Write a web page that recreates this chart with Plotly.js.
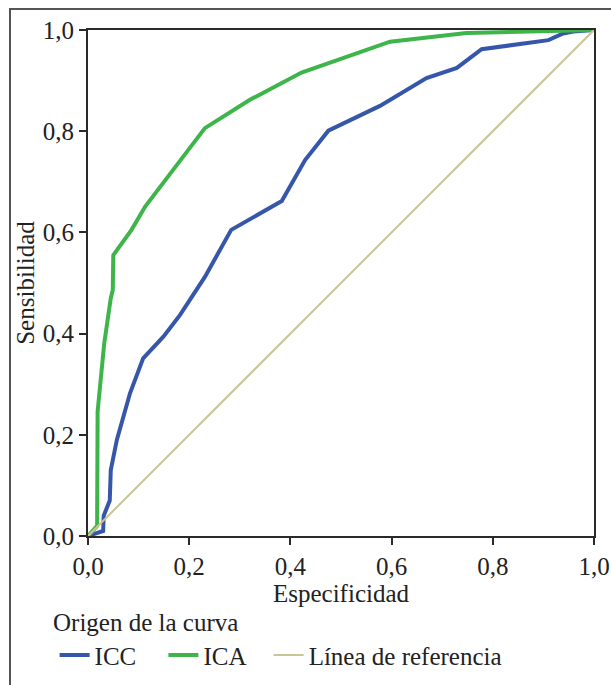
<!DOCTYPE html>
<html>
<head>
<meta charset="utf-8">
<script src="https://cdn.plot.ly/plotly-3.0.1.min.js"></script>
<style>
  html, body { margin: 0; padding: 0; background: #fff; overflow: hidden; }
  #frame { position: absolute; left: 9px; top: 8px; width: 700px; height: 700px;
           border-left: 2px solid #555; border-top: 2px solid #555; pointer-events: none; z-index: 5; }
  #chart { position: absolute; left: 0; top: 0; width: 611px; height: 685px; }
</style>
</head>
<body>
<div id="chart"></div>
<div id="frame"></div>
<script>
// ICC curve (1 - especificidad, sensibilidad)
const iccX = [0, 0.030, 0.031, 0.043, 0.045, 0.057, 0.083, 0.109, 0.149, 0.182, 0.231, 0.283, 0.383, 0.429, 0.475, 0.577, 0.669, 0.729, 0.778, 0.910, 0.939, 0.959, 1];
const iccY = [0, 0.010, 0.040, 0.070, 0.130, 0.190, 0.282, 0.351, 0.394, 0.437, 0.512, 0.605, 0.662, 0.743, 0.801, 0.850, 0.905, 0.925, 0.962, 0.980, 0.993, 0.997, 1];
// ICA curve
const icaX = [0, 0.018, 0.019, 0.029, 0.032, 0.045, 0.049, 0.050, 0.086, 0.113, 0.172, 0.231, 0.320, 0.422, 0.597, 0.748, 1];
const icaY = [0, 0.020, 0.246, 0.348, 0.380, 0.470, 0.486, 0.555, 0.605, 0.651, 0.730, 0.806, 0.862, 0.916, 0.977, 0.994, 1];
// Reference line
const refX = [0, 1];
const refY = [0, 1];

const tickVals = [0, 0.2, 0.4, 0.6, 0.8, 1.0];
const tickText = ["0,0", "0,2", "0,4", "0,6", "0,8", "1,0"];
const seriesNames = ["ICC", "ICA", "Línea de referencia"];
const legendTitle = "Origen de la curva";

const FONT = "Liberation Serif, Times New Roman, serif";
const FS = 25;

const traces = [
  { x: iccX, y: iccY, name: seriesNames[0], mode: "lines", type: "scatter", legend: "legend",
    line: { color: "#3656a9", width: 4 }, cliponaxis: false },
  { x: icaX, y: icaY, name: seriesNames[1], mode: "lines", type: "scatter", legend: "legend2",
    line: { color: "#3db54a", width: 4 }, cliponaxis: false },
  { x: refX, y: refY, name: seriesNames[2], mode: "lines", type: "scatter", legend: "legend3",
    line: { color: "#c8c596", width: 2 } }
];

const axisCommon = {
  range: [0, 1], tickvals: tickVals, ticktext: tickText,
  showgrid: false, zeroline: false, showline: true, mirror: true,
  linecolor: "#2a2a2a", linewidth: 2, ticks: "outside", ticklen: 7,
  tickwidth: 2, tickcolor: "#2a2a2a",
  tickfont: { family: FONT, size: FS, color: "#222" }, fixedrange: true
};

function legendAt(x) {
  return {
    orientation: "h", x: x, y: -0.19, xanchor: "left", yanchor: "top",
    font: { family: FONT, size: FS, color: "#222" },
    bgcolor: "rgba(0,0,0,0)", itemwidth: 30
  };
}

const layout = {
  width: 611, height: 685,
  margin: { l: 88, r: 17, t: 30, b: 149, pad: 0, autoexpand: false },
  paper_bgcolor: "rgba(0,0,0,0)", plot_bgcolor: "#fff",
  font: { family: FONT, size: FS, color: "#222" },
  xaxis: Object.assign({}, axisCommon, {
    title: { text: "Especificidad", font: { family: FONT, size: FS, color: "#222" }, standoff: 3 }
  }),
  yaxis: Object.assign({}, axisCommon, {
    title: { text: "Sensibilidad", font: { family: FONT, size: FS, color: "#222" }, standoff: 1 }
  }),
  showlegend: true,
  legend: legendAt(-0.066),
  legend2: legendAt(0.149),
  legend3: legendAt(0.357),
  annotations: [{
    text: legendTitle, xref: "paper", yref: "paper", x: -0.073, y: -0.170,
    xanchor: "left", yanchor: "middle", showarrow: false,
    font: { family: FONT, size: FS, color: "#222" }
  }]
};

Plotly.newPlot("chart", traces, layout, { displayModeBar: false, staticPlot: true });
</script>
</body>
</html>
